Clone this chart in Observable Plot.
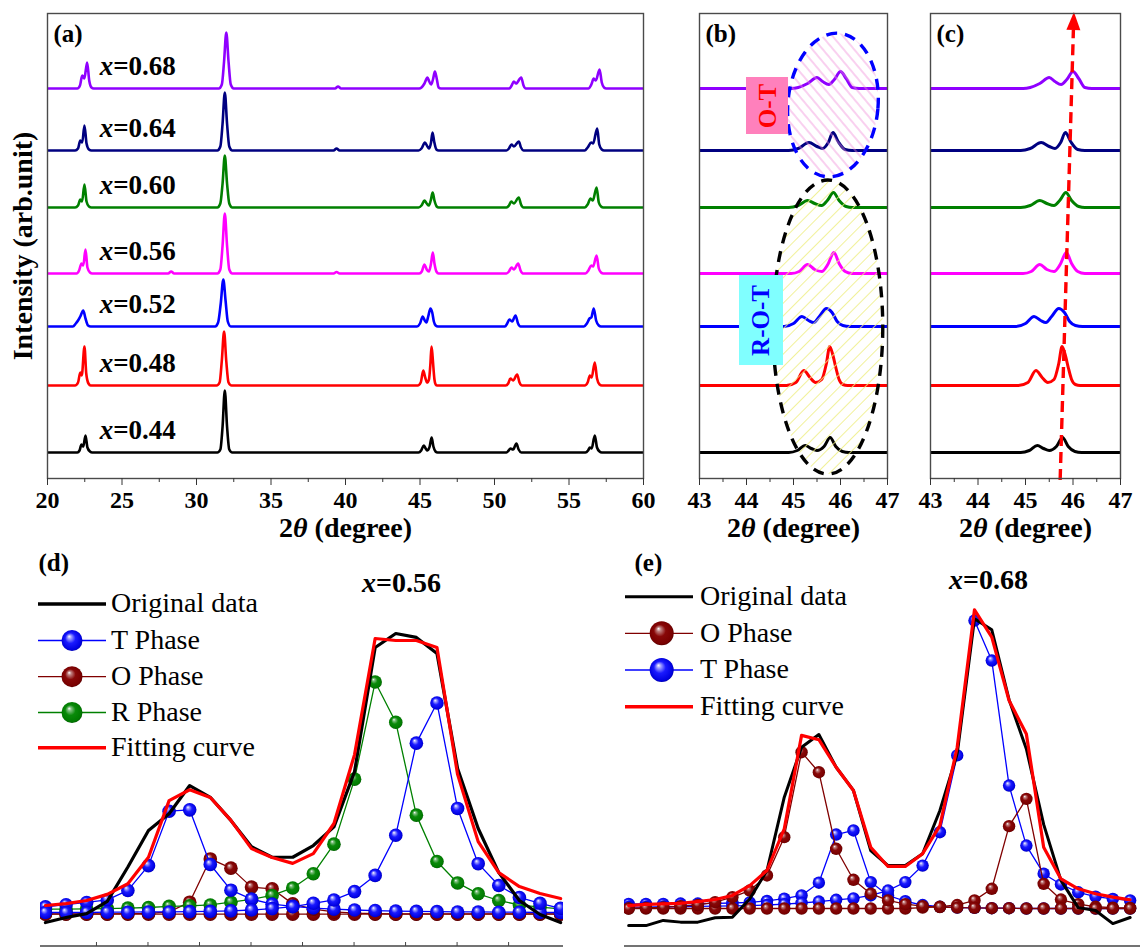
<!DOCTYPE html>
<html>
<head>
<meta charset="utf-8">
<script src="https://cdn.jsdelivr.net/npm/d3@7"></script>
<script src="https://cdn.jsdelivr.net/npm/@observablehq/plot@0.6"></script>
<style>
  html, body { margin: 0; padding: 0; background: #fff; }
  #fig { position: relative; width: 1140px; height: 948px; overflow: hidden; background: #fff; }
  #fig svg { position: absolute; overflow: visible; }
</style>
</head>
<body>
<svg width="0" height="0" style="position:absolute">
  <defs>
    <radialGradient id="ballBlue" cx="0.5" cy="0.5" r="0.55" fx="0.36" fy="0.3">
      <stop offset="0" stop-color="#ffffff"/>
      <stop offset="0.16" stop-color="#a0a0ff"/>
      <stop offset="0.45" stop-color="#1a1aff"/>
      <stop offset="0.85" stop-color="#0000e0"/>
      <stop offset="1" stop-color="#000090"/>
    </radialGradient>
    <radialGradient id="ballMaroon" cx="0.5" cy="0.5" r="0.55" fx="0.36" fy="0.3">
      <stop offset="0" stop-color="#ffffff"/>
      <stop offset="0.16" stop-color="#c08080"/>
      <stop offset="0.45" stop-color="#880808"/>
      <stop offset="0.85" stop-color="#780000"/>
      <stop offset="1" stop-color="#400000"/>
    </radialGradient>
    <radialGradient id="ballGreen" cx="0.5" cy="0.5" r="0.55" fx="0.36" fy="0.3">
      <stop offset="0" stop-color="#ffffff"/>
      <stop offset="0.16" stop-color="#80c080"/>
      <stop offset="0.45" stop-color="#0a8a0a"/>
      <stop offset="0.85" stop-color="#007a00"/>
      <stop offset="1" stop-color="#004000"/>
    </radialGradient>
    <pattern id="hatchPink" patternUnits="userSpaceOnUse" width="8" height="8" patternTransform="rotate(-45)">
      <line x1="4" y1="0" x2="4" y2="8" stroke="#f08ad8" stroke-width="0.8"/>
    </pattern>
    <pattern id="hatchYellow" patternUnits="userSpaceOnUse" width="9" height="9" patternTransform="rotate(45)">
      <line x1="4.5" y1="0" x2="4.5" y2="9" stroke="#eeee80" stroke-width="0.8"/>
    </pattern>
  </defs>
</svg>
<div id="fig"></div>
<script>
const serif = "'Liberation Serif', 'Times New Roman', serif";

// ---------- XRD patterns, one per composition ----------
const samples = ["0.44", "0.48", "0.52", "0.56", "0.60", "0.64", "0.68"];
const sampleColors = ["#000000", "#ff0000", "#0000ff", "#ff00ff", "#008000", "#000080", "#8f00ff"];
// vertical stacking offset of each pattern (arb. units)
const baseline = [26, 93, 152, 205, 271, 328, 390];

// [2θ (deg), intensity above baseline (arb. units)]
const xrd044 = [[20,0],[22.0,0],[22.15,2],[22.28,8],[22.4,6],[22.55,17],[22.68,5],[22.85,1],[23.0,0],
  [31.4,0],[31.6,3],[31.75,26],[31.9,62],[32.05,26],[32.2,3],[32.4,0],
  [44.9,0],[45.08,2],[45.25,7],[45.38,4],[45.5,2],[45.65,6],[45.78,15],[45.9,6],[46.04,1],[46.18,0],
  [50.8,0],[50.95,2],[51.07,4],[51.25,3],[51.47,9],[51.62,3],[51.8,0],
  [56.1,0],[56.28,2],[56.4,5],[56.52,4],[56.73,17],[56.88,5],[57.05,1],[57.2,0],[60,0]];
const xrd048 = [[20,0],[21.85,0],[22.05,3],[22.2,13],[22.3,10],[22.48,39],[22.6,12],[22.75,2],[22.9,0],
  [31.35,0],[31.55,3],[31.7,25],[31.85,54],[32.0,24],[32.15,3],[32.35,0],
  [44.85,0],[45.05,3],[45.22,15],[45.35,8],[45.47,3],[45.6,6],[45.7,22],[45.77,39],[45.84,30],[45.9,18],[45.97,6],[46.05,1],[46.15,0],
  [50.75,0],[50.92,2],[51.07,7],[51.25,5],[51.52,11],[51.68,3],[51.85,0],
  [56.05,0],[56.25,3],[56.4,10],[56.52,8],[56.73,23],[56.88,7],[57.05,1],[57.2,0],[60,0]];
const xrd052 = [[20,0],[21.7,0],[21.9,3],[22.05,6],[22.2,10],[22.4,16],[22.55,8],[22.72,1],[22.9,0],
  [31.25,0],[31.45,4],[31.62,22],[31.8,47],[31.95,26],[32.1,5],[32.3,0],
  [44.8,0],[45.0,3],[45.18,10],[45.32,6],[45.43,4],[45.55,10],[45.7,18],[45.82,14],[45.93,5],[46.05,1],[46.2,0],
  [50.7,0],[50.85,3],[51.0,7],[51.18,5],[51.41,11],[51.58,3],[51.75,0],
  [56.0,0],[56.2,3],[56.38,8],[56.5,9],[56.66,18],[56.82,6],[57.0,1],[57.15,0],[60,0]];
const xrd056 = [[20,0],[21.95,0],[22.12,3],[22.28,10],[22.4,8],[22.55,24],[22.68,6],[22.85,1],[23.0,0],
  [28.1,0],[28.3,2],[28.5,0],
  [31.4,0],[31.6,4],[31.75,28],[31.9,60],[32.05,28],[32.2,4],[32.4,0],
  [39.2,0],[39.4,1.5],[39.6,0],
  [44.95,0],[45.12,2],[45.3,9],[45.45,4],[45.6,2],[45.73,9],[45.86,21],[45.97,10],[46.1,2],[46.25,0],
  [50.8,0],[50.97,2],[51.14,6],[51.3,4],[51.59,10],[51.75,3],[51.9,0],
  [56.1,0],[56.3,3],[56.49,8],[56.62,7],[56.85,18],[57.0,5],[57.15,1],[57.3,0],[60,0]];
const xrd060 = [[20,0],[21.85,0],[22.05,2],[22.2,8],[22.32,6],[22.48,23],[22.62,6],[22.78,1],[22.95,0],
  [31.4,0],[31.6,4],[31.75,24],[31.9,52],[32.05,24],[32.2,4],[32.4,0],
  [44.9,0],[45.1,2],[45.3,7],[45.45,4],[45.6,2],[45.72,7],[45.85,15],[45.97,7],[46.12,1],[46.25,0],
  [50.8,0],[50.97,2],[51.12,6],[51.3,4],[51.63,10],[51.78,3],[51.95,0],
  [56.05,0],[56.25,3],[56.45,9],[56.6,7],[56.85,20],[57.0,5],[57.15,1],[57.3,0],[60,0]];
const xrd064 = [[20,0],[21.85,0],[22.05,2],[22.2,10],[22.33,8],[22.48,25],[22.62,7],[22.78,1],[22.95,0],
  [31.4,0],[31.6,4],[31.75,27],[31.9,58],[32.05,27],[32.2,4],[32.4,0],
  [39.2,0],[39.4,2],[39.6,0],
  [44.9,0],[45.1,2],[45.33,8],[45.5,4],[45.62,2],[45.74,8],[45.84,18],[45.95,9],[46.1,1],[46.25,0],
  [50.8,0],[50.97,2],[51.14,6],[51.3,4],[51.63,9],[51.78,3],[51.95,0],
  [56.05,0],[56.25,3],[56.49,8],[56.62,7],[56.89,22],[57.03,6],[57.2,1],[57.35,0],[60,0]];
const xrd068 = [[20,0],[22.0,0],[22.18,3],[22.33,13],[22.47,10],[22.66,26],[22.8,8],[22.95,1],[23.1,0],
  [31.5,0],[31.7,4],[31.85,27],[32.0,56],[32.15,27],[32.3,4],[32.5,0],
  [39.3,0],[39.5,2],[39.7,0],
  [44.95,0],[45.1,1],[45.3,5],[45.5,11],[45.62,7],[45.75,4],[45.87,9],[46.0,17],[46.12,10],[46.25,1],[46.4,0],
  [51.0,0],[51.15,3],[51.3,7],[51.45,5],[51.79,11],[51.95,3],[52.1,0],
  [56.3,0],[56.5,4],[56.66,10],[56.8,8],[57.05,19],[57.2,6],[57.35,1],[57.5,0],[60,0]];
const xrdSets = [xrd044, xrd048, xrd052, xrd056, xrd060, xrd064, xrd068];

const majorA = [20, 25, 30, 35, 40, 45, 50, 55, 60];
const minorA = [22.5, 27.5, 32.5, 37.5, 42.5, 47.5, 52.5, 57.5];
const majorBC = [43, 44, 45, 46, 47];
const minorBC = [43.5, 44.5, 45.5, 46.5];

// phase-coexistence regions marked in (b): centre (2θ, stacked intensity), half-axes, tilt (deg)
const zones = [
  {x: 45.85, y: 373, rx: 0.96, ry: 72, tilt: 5, stroke: "#0000ff", fill: "url(#hatchPink)"},
  {x: 45.74, y: 151, rx: 1.17, ry: 147, tilt: 0, stroke: "#000000", fill: "url(#hatchYellow)"}
];
const phaseTags = [
  {label: "O-T", x1: 44.0, x2: 44.894, y1: 344, y2: 401, fill: "#ff80bc", color: "#ff0000"},
  {label: "R-O-T", x1: 43.851, x2: 44.787, y1: 113, y2: 203, fill: "#80ffff", color: "#0000ff"}
];
// peak-shift guide in (c)
const shiftArrow = {x1: 45.74, y1: -2, x2: 46.03, y2: 466};

// ---------- peak fitting, x = 0.56 ----------
const dTheta = [45.00,45.05,45.10,45.15,45.20,45.25,45.30,45.35,45.40,45.45,45.50,45.55,45.60,45.65,45.70,45.75,45.80,45.85,45.90,45.95,46.00,46.05,46.10,46.15,46.20,46.25];
const dOriginal = [-0.036,-0.018,-0.004,0.040,0.163,0.294,0.354,0.455,0.413,0.330,0.236,0.198,0.198,0.240,0.307,0.505,0.950,1.000,0.986,0.928,0.516,0.301,0.143,0.043,-0.007,-0.036];
const dFit = [0.025,0.032,0.043,0.065,0.103,0.198,0.401,0.440,0.412,0.330,0.229,0.197,0.176,0.211,0.319,0.566,0.982,0.975,0.975,0.950,0.495,0.254,0.143,0.093,0.068,0.050];
const dT1 = [0.020,0.028,0.036,0.045,0.079,0.168,0.363,0.368,0.172,0.080,0.048,0.030,0.022,0.016,0.012,0.009,0.007,0.005,0.004,0.003,0.002,0.002,0.001,0.001,0.000,0.000];
const dT2 = [0.000,0.000,0.000,0.001,0.001,0.002,0.002,0.003,0.004,0.006,0.009,0.014,0.021,0.033,0.045,0.075,0.133,0.277,0.607,0.751,0.373,0.175,0.097,0.054,0.033,0.015];
const dO1 = [-0.005,-0.005,-0.005,-0.005,-0.004,-0.003,0.002,0.037,0.192,0.159,0.091,0.085,0.031,0.012,0.002,-0.002,-0.004,-0.005,-0.005,-0.005,-0.005,-0.005,-0.005,-0.005,-0.005,-0.005];
const dO2 = [-0.006,-0.006,-0.006,-0.006,-0.006,-0.006,-0.006,-0.006,-0.006,-0.006,-0.006,-0.006,-0.006,-0.006,-0.006,-0.006,-0.006,-0.006,-0.006,-0.006,-0.006,-0.006,-0.006,-0.006,-0.006,-0.006];
const dR = [0.012,0.012,0.013,0.014,0.016,0.018,0.022,0.024,0.027,0.037,0.047,0.061,0.088,0.139,0.245,0.478,0.826,0.682,0.349,0.183,0.106,0.067,0.043,0.027,0.019,0.013];
const dTicks = [45.125,45.25,45.375,45.5,45.625,45.75,45.875,46.0,46.125];

// ---------- peak fitting, x = 0.68 ----------
const eTheta = [45.05,45.10,45.15,45.20,45.25,45.30,45.35,45.40,45.45,45.50,45.55,45.60,45.65,45.70,45.75,45.80,45.85,45.90,45.95,46.00,46.05,46.10,46.15,46.20,46.25,46.30,46.35,46.40,46.45,46.50];
const eOriginal = [-0.059,-0.059,-0.041,-0.047,-0.047,-0.032,-0.030,0.033,0.131,0.384,0.556,0.600,0.487,0.407,0.200,0.148,0.148,0.189,0.338,0.533,0.999,0.961,0.720,0.550,0.290,0.097,0.003,-0.007,-0.052,-0.031];
const eFit = [0.010,0.014,0.016,0.018,0.024,0.031,0.045,0.079,0.131,0.275,0.597,0.582,0.487,0.407,0.211,0.145,0.145,0.189,0.286,0.556,1.030,0.936,0.717,0.602,0.211,0.102,0.068,0.051,0.039,0.030];
const eO1 = [0.000,0.002,0.004,0.008,0.012,0.022,0.039,0.062,0.114,0.246,0.539,0.470,0.206,0.099,0.051,0.028,0.015,0.008,0.005,0.003,0.002,0.001,0.001,0.000,0.000,0.000,0.000,0.000,0.000,0.000];
const eO2 = [0.000,0.000,0.000,0.000,0.000,0.000,0.000,0.000,0.000,0.000,0.000,0.000,0.000,0.000,0.000,0.000,0.000,0.003,0.006,0.012,0.028,0.068,0.284,0.378,0.085,0.031,0.015,0.006,0.003,0.002];
const eT1 = [0.016,0.016,0.016,0.017,0.017,0.018,0.019,0.021,0.026,0.034,0.045,0.089,0.255,0.269,0.091,0.045,0.025,0.012,0.006,0.003,0.002,0.001,0.001,0.000,0.000,0.000,0.000,0.000,0.000,0.000];
const eT2 = [0.005,0.005,0.006,0.006,0.007,0.008,0.009,0.010,0.012,0.015,0.019,0.024,0.030,0.035,0.045,0.062,0.091,0.148,0.263,0.528,0.993,0.855,0.424,0.217,0.120,0.083,0.056,0.041,0.033,0.028];

const fig = document.getElementById("fig");

function place(node, left, top) {
  node.style.left = left + "px";
  node.style.top = top + "px";
  fig.appendChild(node);
  return node;
}

// italic variable names inside labels: "x=…" and "2θ …"
function richText(svg) {
  const ns = "http://www.w3.org/2000/svg";
  svg.querySelectorAll("text").forEach(t => {
    if (t.querySelector("tspan")) return;
    const s = t.textContent;
    let parts = null;
    if (s.startsWith("x=")) parts = [["x", true], [s.slice(1), false]];
    else if (s.startsWith("2θ")) parts = [["2", false], ["θ", true], [s.slice(2), false]];
    if (!parts) return;
    t.textContent = "";
    for (const [str, it] of parts) {
      const ts = document.createElementNS(ns, "tspan");
      ts.textContent = str;
      if (it) ts.setAttribute("font-style", "italic");
      t.appendChild(ts);
    }
  });
  return svg;
}

// dashed, hatched ellipses drawn through the plot scales
function zoneMark(list) {
  return (index, scales) => {
    const g = d3.create("svg:g");
    for (const z of list) {
      const cx = scales.x(z.x), cy = scales.y(z.y);
      const rx = Math.abs(scales.x(z.x + z.rx) - cx), ry = Math.abs(scales.y(z.y + z.ry) - cy);
      g.append("ellipse")
        .attr("cx", cx).attr("cy", cy).attr("rx", rx).attr("ry", ry)
        .attr("transform", `rotate(${z.tilt} ${cx} ${cy})`)
        .attr("fill", z.fill).attr("stroke", z.stroke)
        .attr("stroke-width", 3.4).attr("stroke-dasharray", "11 8");
    }
    return g.node();
  };
}

// dashed guide with a solid triangular head
function arrowMark(a) {
  return (index, scales) => {
    const x1 = scales.x(a.x1), y1 = scales.y(a.y1), x2 = scales.x(a.x2), y2 = scales.y(a.y2);
    const L = Math.hypot(x2 - x1, y2 - y1), ux = (x2 - x1) / L, uy = (y2 - y1) / L;
    const head = 18, half = 7;
    const bx = x2 - ux * head, by = y2 - uy * head;
    const g = d3.create("svg:g");
    g.append("line").attr("x1", x1).attr("y1", y1).attr("x2", bx).attr("y2", by)
      .attr("stroke", "#ff0000").attr("stroke-width", 3.4).attr("stroke-dasharray", "11 6");
    g.append("path")
      .attr("d", `M${x2},${y2}L${bx - uy * half},${by + ux * half}L${bx + uy * half},${by - ux * half}Z`)
      .attr("fill", "#ff0000");
    return g.node();
  };
}

// x axis line along the bottom of the frame, with small inward ticks
function bottomAxis(ticks) {
  return (index, scales, values, dims) => {
    const y = dims.height - dims.marginBottom;
    const g = d3.create("svg:g").attr("stroke", "#444");
    g.append("line").attr("x1", dims.marginLeft).attr("x2", dims.width - dims.marginRight)
      .attr("y1", y).attr("y2", y).attr("stroke-width", 1.6);
    for (const t of ticks) {
      const x = scales.x(t);
      g.append("line").attr("x1", x).attr("x2", x).attr("y1", y).attr("y2", y - 4).attr("stroke-width", 1);
    }
    return g.node();
  };
}

function xrdPanel({width, marginLeft, marginRight, domain, major, minor, strokeWidth, letter, extras = [], labels = false}) {
  const marks = [
    ...xrdSets.map((pts, k) => Plot.line(pts, {
      x: d => d[0], y: d => d[1] + baseline[k],
      stroke: sampleColors[k], strokeWidth, curve: "monotone-x", clip: true
    })),
    ...extras,
    Plot.frame({stroke: "#4a4a4a", strokeWidth: 1.4}),
    Plot.axisX(minor, {tickSize: 4, tickFormat: () => "", stroke: "#333", label: null}),
    Plot.axisX(major, {tickSize: 7, tickPadding: 5, fontSize: 24, fontWeight: "bold", fontFamily: serif,
      tickFormat: d => String(d), stroke: "#333", label: null}),
    Plot.text([letter], {text: d => d, frameAnchor: "top-left", dx: 6, dy: 11, fontSize: 25, fontWeight: "bold", fontFamily: serif}),
    Plot.text(["2θ (degree)"], {text: d => d, frameAnchor: "bottom", lineAnchor: "middle", dy: 50, fontSize: 28, fontWeight: "bold", fontFamily: serif})
  ];
  if (labels) {
    marks.push(
      Plot.text(samples, {x: () => 23.5, y: (d, i) => baseline[i] + 22, text: d => "x=" + d,
        textAnchor: "start", lineAnchor: "middle", fontSize: 27, fontWeight: "bold", fontFamily: serif}),
      Plot.text(["Intensity (arb.unit)"], {text: d => d, frameAnchor: "left", rotate: -90, dx: -24,
        textAnchor: "middle", lineAnchor: "middle", fontSize: 28, fontWeight: "bold", fontFamily: serif})
    );
  }
  return Plot.plot({
    width, height: 540, marginLeft, marginRight, marginTop: 13, marginBottom: 62,
    x: {domain},
    y: {domain: [0, 465], axis: null},
    style: {background: "transparent", fontFamily: serif, fontWeight: "bold", fontSize: "24px", color: "#000", overflow: "visible"},
    marks
  });
}

// (a) full pattern
place(richText(xrdPanel({width: 660, marginLeft: 47, marginRight: 17, domain: [20, 60],
  major: majorA, minor: minorA, strokeWidth: 2.6, letter: "(a)", labels: true})), 0, 0);

// (b) zoom on the (002)/(200) doublet with phase regions
place(richText(xrdPanel({width: 240, marginLeft: 39, marginRight: 13, domain: [43, 47],
  major: majorBC, minor: minorBC, strokeWidth: 3, letter: "(b)",
  extras: [
    zoneMark(zones),
    ...phaseTags.flatMap(t => [
      Plot.rect([t], {x1: "x1", x2: "x2", y1: "y1", y2: "y2", fill: t.fill}),
      Plot.text([t], {x: d => (d.x1 + d.x2) / 2, y: d => (d.y1 + d.y2) / 2, text: "label", rotate: -90,
        fill: t.color, fontSize: 25, fontWeight: "bold", fontFamily: serif})
    ])
  ]})), 660, 0);

// (c) same window with the peak-shift guide
place(richText(xrdPanel({width: 240, marginLeft: 30, marginRight: 20, domain: [43, 47],
  major: majorBC, minor: minorBC, strokeWidth: 3, letter: "(c)",
  extras: [arrowMark(shiftArrow)]})), 900, 0);

// ---------- fitting panels ----------
const maroon = "#800000", blue = "#0000ff", green = "#008000";

function phase(rows, key, color, ball, r) {
  return [
    Plot.line(rows, {x: "t", y: key, stroke: color, strokeWidth: 1.3, clip: true}),
    Plot.dot(rows, {x: "t", y: key, r, fill: `url(#${ball})`, clip: true})
  ];
}

function drawLegend(items, {left, top, x1, x2, cx, tx, rows, r}) {
  const svg = d3.create("svg").attr("width", 340).attr("height", 230)
    .style("left", left + "px").style("top", top + "px");
  items.forEach((it, k) => {
    const y = rows[k];
    svg.append("line").attr("x1", x1).attr("x2", x2).attr("y1", y).attr("y2", y)
      .attr("stroke", it.color).attr("stroke-width", it.width);
    if (it.ball) svg.append("circle").attr("cx", cx).attr("cy", y).attr("r", r).attr("fill", `url(#${it.ball})`);
    svg.append("text").attr("x", tx).attr("y", y).attr("dy", "0.3em")
      .attr("font-family", serif).attr("font-size", 28).attr("fill", "#000").text(it.label);
  });
  fig.appendChild(svg.node());
}

// (d) x = 0.56
const dRows = dTheta.map((t, i) => ({t, original: dOriginal[i], fit: dFit[i], T1: dT1[i], T2: dT2[i], O1: dO1[i], O2: dO2[i], R: dR[i]}));
const plotD = Plot.plot({
  width: 570, height: 408, marginLeft: 40, marginRight: 7, marginTop: 0, marginBottom: 2,
  x: {domain: [44.988, 46.257], axis: null},
  y: {domain: [0, 1], range: [372, 93], axis: null},
  style: {background: "transparent", fontFamily: serif, color: "#000", overflow: "visible"},
  marks: [
    ...phase(dRows, "O2", maroon, "ballMaroon", 6.8),
    ...phase(dRows, "O1", maroon, "ballMaroon", 6.8),
    ...phase(dRows, "R", green, "ballGreen", 6.8),
    ...phase(dRows, "T1", blue, "ballBlue", 6.8),
    ...phase(dRows, "T2", blue, "ballBlue", 6.8),
    Plot.line(dRows, {x: "t", y: "original", stroke: "#000", strokeWidth: 3.2, clip: true}),
    Plot.line(dRows, {x: "t", y: "fit", stroke: "#ff0000", strokeWidth: 3.2, clip: true}),
    bottomAxis(dTicks),
    Plot.text(["(d)"], {text: d => d, frameAnchor: "top-left", dx: -2, dy: 22, lineAnchor: "middle", fontSize: 25, fontWeight: "bold"}),
    Plot.text(["x=0.56"], {text: d => d, frameAnchor: "top", dx: 99.5, dy: 43, lineAnchor: "middle", fontSize: 28, fontWeight: "bold"})
  ]
});
place(richText(plotD), 0, 540);
drawLegend([
  {label: "Original data", color: "#000", width: 3.5},
  {label: "T Phase", color: blue, width: 1.3, ball: "ballBlue"},
  {label: "O Phase", color: maroon, width: 1.3, ball: "ballMaroon"},
  {label: "R Phase", color: green, width: 1.3, ball: "ballGreen"},
  {label: "Fitting curve", color: "#ff0000", width: 3.5}
], {left: 0, top: 540, x1: 38, x2: 106, cx: 72, tx: 111, rows: [64, 100.5, 136.7, 172.5, 207.7], r: 10.5});

// (e) x = 0.68
const eRows = eTheta.map((t, i) => ({t, original: eOriginal[i], fit: eFit[i], T1: eT1[i], T2: eT2[i], O1: eO1[i], O2: eO2[i]}));
const plotE = Plot.plot({
  width: 570, height: 408, marginLeft: 54, marginRight: 0, marginTop: 0, marginBottom: 2,
  x: {domain: [45.038, 46.53], axis: null},
  y: {domain: [0, 1], range: [368, 78], axis: null},
  style: {background: "transparent", fontFamily: serif, color: "#000", overflow: "visible"},
  marks: [
    ...phase(eRows, "T1", blue, "ballBlue", 6.2),
    ...phase(eRows, "T2", blue, "ballBlue", 6.2),
    ...phase(eRows, "O2", maroon, "ballMaroon", 6.2),
    ...phase(eRows, "O1", maroon, "ballMaroon", 6.2),
    Plot.line(eRows, {x: "t", y: "original", stroke: "#000", strokeWidth: 3, clip: true}),
    Plot.line(eRows, {x: "t", y: "fit", stroke: "#ff0000", strokeWidth: 3.2, clip: true}),
    bottomAxis([]),
    Plot.text(["(e)"], {text: d => d, frameAnchor: "top-left", dx: 10, dy: 22, lineAnchor: "middle", fontSize: 25, fontWeight: "bold"}),
    Plot.text(["x=0.68"], {text: d => d, frameAnchor: "top", dx: 106, dy: 40, lineAnchor: "middle", fontSize: 28, fontWeight: "bold"})
  ]
});
place(richText(plotE), 570, 540);
drawLegend([
  {label: "Original data", color: "#000", width: 3},
  {label: "O Phase", color: maroon, width: 1.3, ball: "ballMaroon"},
  {label: "T Phase", color: blue, width: 1.3, ball: "ballBlue"},
  {label: "Fitting curve", color: "#ff0000", width: 3.5}
], {left: 570, top: 540, x1: 55, x2: 123, cx: 91.7, tx: 130, rows: [56.7, 93.3, 130, 166.7], r: 12});
</script>
</body>
</html>
